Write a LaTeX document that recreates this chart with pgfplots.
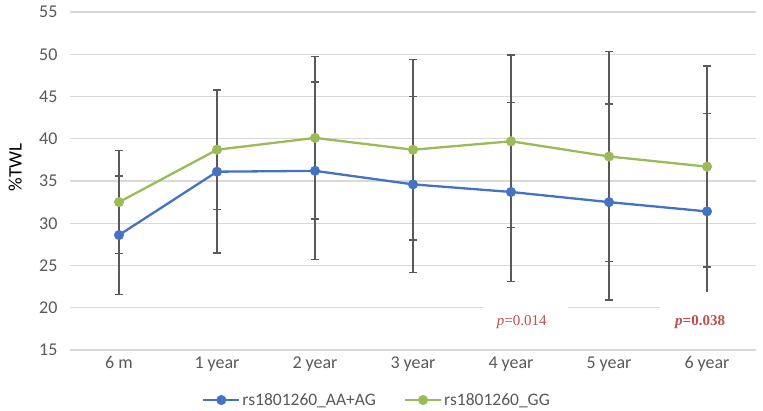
\documentclass[border=0pt]{standalone}
\usepackage{pgfplots}
\pgfplotsset{compat=1.18}
\usepackage{fontspec}
\setmainfont{Carlito}
\newfontfamily\timesfont{Liberation Serif}

\definecolor{sblue}{HTML}{4472C4}
\definecolor{sgreen}{HTML}{9BBB59}
\definecolor{gridgray}{HTML}{D9D9D9}
\definecolor{errgray}{HTML}{595959}
\definecolor{pred}{HTML}{C0504D}

% x: 0 = 6 m ... 6 = 6 year ; e = half-width of error bar
\pgfplotstableread{
x   y     e
0   28.6  7.0
1   36.1  9.6
2   36.2  10.5
3   34.6  10.4
4   33.7  10.6
5   32.5  11.6
6   31.4  11.6
}\aaag
\pgfplotstableread{
x   y     e
0   32.5  6.1
1   38.7  7.1
2   40.1  9.6
3   38.7  10.7
4   39.7  10.2
5   37.9  12.4
6   36.7  11.9
}\gg

\begin{document}
\begin{tikzpicture}
\path[use as bounding box] (0,0) rectangle (763pt,411pt);
\begin{axis}[
    at={(70pt,61pt)}, anchor=south west,
    width=686pt, height=338pt, scale only axis,
    xmin=-0.5, xmax=6.5,
    ymin=15, ymax=55,
    ytick={15,20,...,55},
    xtick={0,...,6},
    xticklabels={6 m, 1 year, 2 year, 3 year, 4 year, 5 year, 6 year},
    axis line style={draw=none},
    major tick length=0pt,
    ymajorgrids=true,
    grid style={gridgray, line width=1.2pt},
    ticklabel style={font=\fontsize{18}{18}\selectfont, text=errgray},
    /pgf/number format/assume math mode=true,
    yticklabel style={xshift=-9pt},
    xticklabel style={yshift=-3pt},
    ylabel={\%TWL},
    ylabel style={at={(axis description cs:-0.080,0.541)}, anchor=center,
        font=\fontsize{19}{19}\selectfont},
    clip=false,
    legend style={at={(0.4475,-0.148)}, anchor=center, draw=none,
        font=\fontsize{17.5}{17.5}\selectfont, text=errgray,
        legend columns=2,
        /tikz/every even column/.append style={column sep=26pt},
        inner sep=0pt},
    legend image code/.code={
        \draw[#1, mark repeat=2, mark phase=2]
            plot coordinates {(0pt,0pt) (18pt,0pt) (36pt,0pt)};},
    legend cell align=left,
]
% error bars
\addplot[draw=none, no marks, forget plot,
    error bars/.cd, y dir=both, y explicit,
    error bar style={errgray, line width=1.4pt},
    error mark options={rotate=90, errgray, mark size=4pt, line width=1.4pt}]
    table[x=x, y=y, y error=e] {\aaag};
\addplot[draw=none, no marks, forget plot,
    error bars/.cd, y dir=both, y explicit,
    error bar style={errgray, line width=1.4pt},
    error mark options={rotate=90, errgray, mark size=4pt, line width=1.4pt}]
    table[x=x, y=y, y error=e] {\gg};
% series
\addplot[sblue, line width=2.3pt, mark=*, mark size=4.8pt,
    mark options={solid, fill=sblue, draw=sblue, line width=0.4pt}]
    table[x=x, y=y] {\aaag};
\addlegendentry{rs1801260\_AA+AG}
\addplot[sgreen, line width=2.3pt, mark=*, mark size=4.8pt,
    mark options={solid, fill=sgreen, draw=sgreen, line width=0.4pt}]
    table[x=x, y=y] {\gg};
\addlegendentry{rs1801260\_GG}
% white boxes behind the p values
\fill[white] (axis cs:3.71,16.2) rectangle (axis cs:4.58,21.9);
\fill[white] (axis cs:5.52,16.2) rectangle (axis cs:6.55,21.9);
\node[text=pred, font=\timesfont\fontsize{15}{15}\selectfont]
    at (axis cs:4.11,18.25) {\textit{p}=0.014};
\node[text=pred, font=\timesfont\fontsize{15}{15}\selectfont\bfseries]
    at (axis cs:5.93,18.3) {\textit{p}=0.038};
\end{axis}
\end{tikzpicture}
\end{document}
